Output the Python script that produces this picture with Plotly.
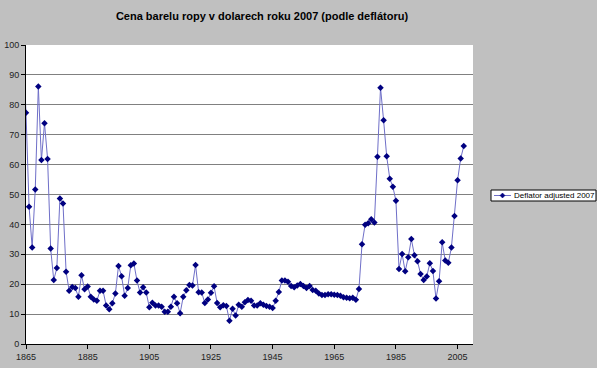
import plotly.graph_objects as go

years = list(range(1864, 2008))
prices = [
    99.0,                                                        # 1864
    77.3, 45.9, 32.3, 51.7, 86.1, 61.5, 73.8, 61.9, 31.9, 21.4,  # 1865-1874
    25.4, 48.7, 47.0, 24.2, 17.8, 19.1, 18.7, 15.8, 23.0, 18.3,  # 1875-1884
    19.2, 15.8, 14.9, 14.5, 17.8, 17.8, 12.9, 11.6, 13.6, 16.9,  # 1885-1894
    26.1, 22.7, 16.1, 18.7, 26.3, 26.9, 21.2, 17.2, 19.0, 17.2,  # 1895-1904
    12.3, 13.8, 12.9, 12.9, 12.5, 10.8, 10.8, 12.5, 15.8, 13.6,  # 1905-1914
    10.3, 15.8, 18.0, 19.7, 19.6, 26.4, 17.3, 17.2, 13.7, 14.9,  # 1915-1924
    17.1, 19.3, 13.7, 12.3, 13.0, 12.7, 7.8, 11.8, 9.5, 13.1,    # 1925-1934
    12.5, 14.0, 14.7, 14.5, 12.9, 12.9, 13.6, 13.1, 12.7, 12.5,  # 1935-1944
    12.0, 14.5, 17.4, 21.2, 21.2, 20.8, 19.4, 19.0, 19.6, 20.1,  # 1945-1954
    19.4, 18.7, 19.4, 18.1, 17.8, 16.9, 16.4, 16.4, 16.6, 16.6,  # 1955-1964
    16.5, 16.4, 16.1, 15.6, 15.5, 15.3, 15.5, 14.8, 18.4, 33.4,  # 1965-1974
    39.9, 40.4, 41.7, 40.6, 62.6, 85.7, 74.8, 62.8, 55.3, 52.6,  # 1975-1984
    47.9, 25.1, 30.1, 24.3, 29.0, 35.1, 29.7, 27.7, 23.4, 21.4,  # 1985-1994
    22.6, 27.0, 24.4, 15.2, 21.0, 34.0, 27.9, 27.2, 32.3, 42.8,  # 1995-2004
    54.8, 62.0, 66.2,                                            # 2005-2007
]
series_name = "Deflator adjusted 2007"
title_text = "Cena barelu ropy v dolarech roku 2007 (podle deflátoru)"
x_ticks = [1865, 1885, 1905, 1925, 1945, 1965, 1985, 2005]
y_ticks = list(range(0, 101, 10))

font_family = "Liberation Sans, Arial, sans-serif"
LINE_COLOR = "#6F6FC8"
MARKER_COLOR = "#000080"

# plot area in pixels
L, R, T, B = 26, 473, 45, 344
W, H = 597, 368


def px_x(p):
    return (p - L) / (R - L)


def px_y(p):
    return (B - p) / (B - T)


fig = go.Figure()
fig.add_trace(go.Scatter(
    x=years, y=prices, mode="lines+markers", name=series_name,
    line=dict(color=LINE_COLOR, width=1),
    marker=dict(symbol="diamond", size=5, color=MARKER_COLOR,
                line=dict(width=0)),
    showlegend=False,
))

# legend box (drawn manually to match compact Excel legend)
lx0, lx1, ly0, ly1 = 491, 596, 190, 201
ly = (ly0 + ly1) / 2
cx = 502.5
shapes = [
    dict(type="rect", xref="paper", yref="paper",
         x0=px_x(lx0), x1=px_x(lx1), y0=px_y(ly1), y1=px_y(ly0),
         fillcolor="#FFFFFF", line=dict(color="#000000", width=1), layer="above"),
    dict(type="line", xref="paper", yref="paper",
         x0=px_x(494), x1=px_x(511), y0=px_y(ly), y1=px_y(ly),
         line=dict(color=LINE_COLOR, width=1), layer="above"),
    dict(type="path", xref="paper", yref="paper",
         path=(f"M {px_x(cx - 2.5)} {px_y(ly)} L {px_x(cx)} {px_y(ly - 2.5)} "
               f"L {px_x(cx + 2.5)} {px_y(ly)} L {px_x(cx)} {px_y(ly + 2.5)} Z"),
         fillcolor=MARKER_COLOR, line=dict(color=MARKER_COLOR, width=0.5), layer="above"),
]
annotations = [
    dict(text=series_name, xref="paper", yref="paper", x=px_x(512), y=px_y(ly),
         xanchor="left", yanchor="middle", showarrow=False,
         font=dict(size=8, color="#000000", family=font_family)),
]

fig.update_layout(
    width=W, height=H,
    paper_bgcolor="#C0C0C0", plot_bgcolor="#FFFFFF",
    margin=dict(l=L, r=W - R, t=T, b=H - B, autoexpand=False),
    font=dict(family=font_family, size=9, color="#222222"),
    title=dict(text="<b>" + title_text + "</b>", x=262 / W, xanchor="center",
               y=1 - 16 / H, yanchor="middle", yref="container",
               font=dict(size=11, color="#000000", family=font_family)),
    showlegend=False,
    shapes=shapes,
    annotations=annotations,
    xaxis=dict(range=[1865, 2010], tickvals=x_ticks, ticks="outside",
               ticklen=4, tickcolor="#000000", showgrid=False,
               showline=True, linecolor="#000000", linewidth=1,
               zeroline=False, automargin=False,
               tickfont=dict(size=9, color="#222222")),
    yaxis=dict(range=[0, 100], tickvals=y_ticks, ticks="outside",
               ticklen=4, tickcolor="#000000", showgrid=True,
               gridcolor="#808080", gridwidth=1,
               showline=True, linecolor="#000000", linewidth=1,
               zeroline=False, automargin=False,
               tickfont=dict(size=9, color="#222222")),
)

fig.write_html(
    "out.html",
    config={"displayModeBar": False},
    post_script="document.body.style.margin='0';document.body.style.padding='0';"
                "document.body.style.background='#C0C0C0';",
)
